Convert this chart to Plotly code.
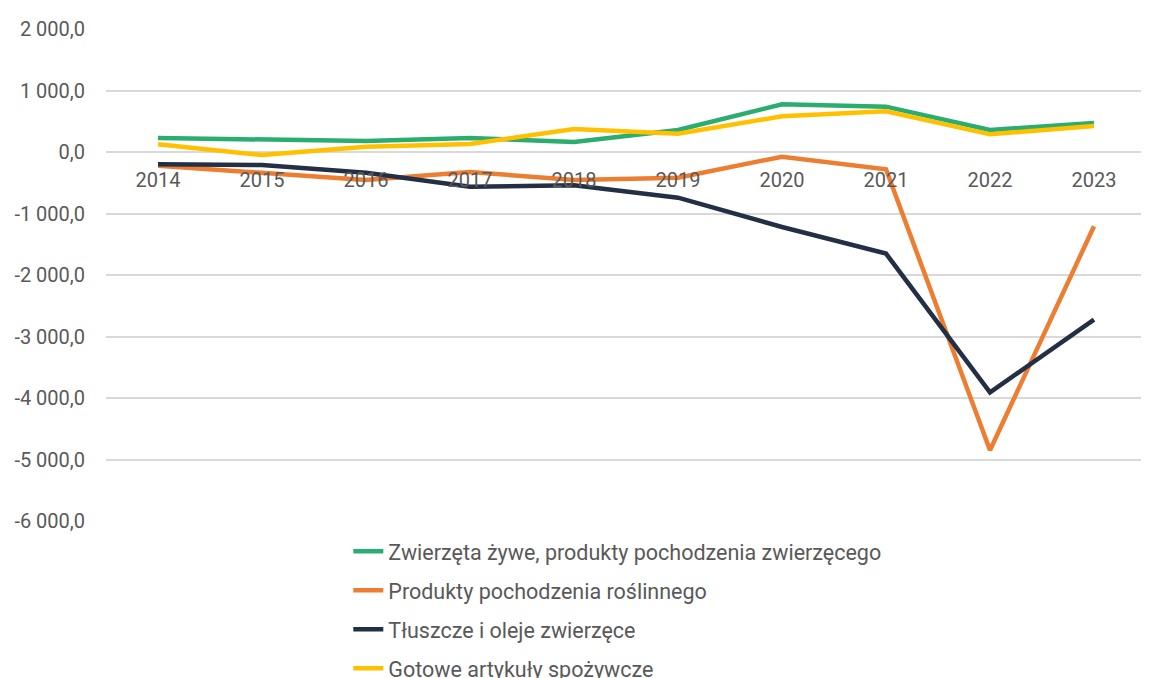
import plotly.graph_objects as go

years = ["2014", "2015", "2016", "2017", "2018", "2019", "2020", "2021", "2022", "2023"]

zwierzeta = [228, 195, 179, 228, 163, 358, 775, 737, 358, 472]
roslinne = [-222, -336, -455, -325, -455, -417, -76, -282, -4850, -1207]
tluszcze = [-200, -211, -336, -564, -541, -743, -1220, -1651, -3908, -2726]
gotowe = [125, -49, 86, 130, 374, 298, 580, 661, 287, 423]

series_names = [
    "Zwierzęta żywe, produkty pochodzenia zwierzęcego",
    "Produkty pochodzenia roślinnego",
    "Tłuszcze i oleje zwierzęce",
    "Gotowe artykuły spożywcze",
]
series_values = [zwierzeta, roslinne, tluszcze, gotowe]
series_colors = ["#2AAD6F", "#ED7D31", "#232F45", "#FFC000"]

y_tickvals = [2000, 1000, 0, -1000, -2000, -3000, -4000, -5000, -6000]
y_ticktext = ["2 000,0", "1 000,0", "0,0", "-1 000,0", "-2 000,0", "-3 000,0",
              "-4 000,0", "-5 000,0", "-6 000,0"]

fig = go.Figure()
for i, (name, vals, col) in enumerate(zip(series_names, series_values, series_colors)):
    fig.add_trace(go.Scatter(
        x=years, y=vals, name=name, mode="lines",
        line=dict(color=col, width=4.5),
        legendgroup=f"g{i}",
    ))

ymin, ymax = -6000, 2000
zero_pos = (0 - ymin) / (ymax - ymin)

# page body has an 8px default margin, so the figure is sized to fill the rest
fig.update_layout(
    width=1141, height=670,
    margin=dict(l=98, r=3, t=21, b=157, autoexpand=False),
    paper_bgcolor="white", plot_bgcolor="white",
    font=dict(family="Roboto", size=20, color="#595959"),
    showlegend=True,
    legend=dict(
        x=0.233, y=-0.02, xanchor="left", yanchor="top",
        orientation="v", tracegroupgap=8,
        font=dict(family="Roboto", size=21.5, color="#595959"),
        bgcolor="rgba(0,0,0,0)",
    ),
    xaxis=dict(
        type="category", anchor="free", position=zero_pos,
        range=[-0.5, 9.5],
        showgrid=False, showline=False, zeroline=False,
        ticks="", tickfont=dict(size=20, color="#595959"),
        ticklabelstandoff=14,
    ),
    yaxis=dict(
        range=[ymin, ymax], tickvals=y_tickvals, ticktext=y_ticktext,
        showgrid=True, gridcolor="#D9D9D9", gridwidth=2,
        zeroline=False, showline=False, ticks="",
        tickfont=dict(size=20, color="#595959"),
        ticklabelstandoff=20,
    ),
)

fig.write_html("out.html")
